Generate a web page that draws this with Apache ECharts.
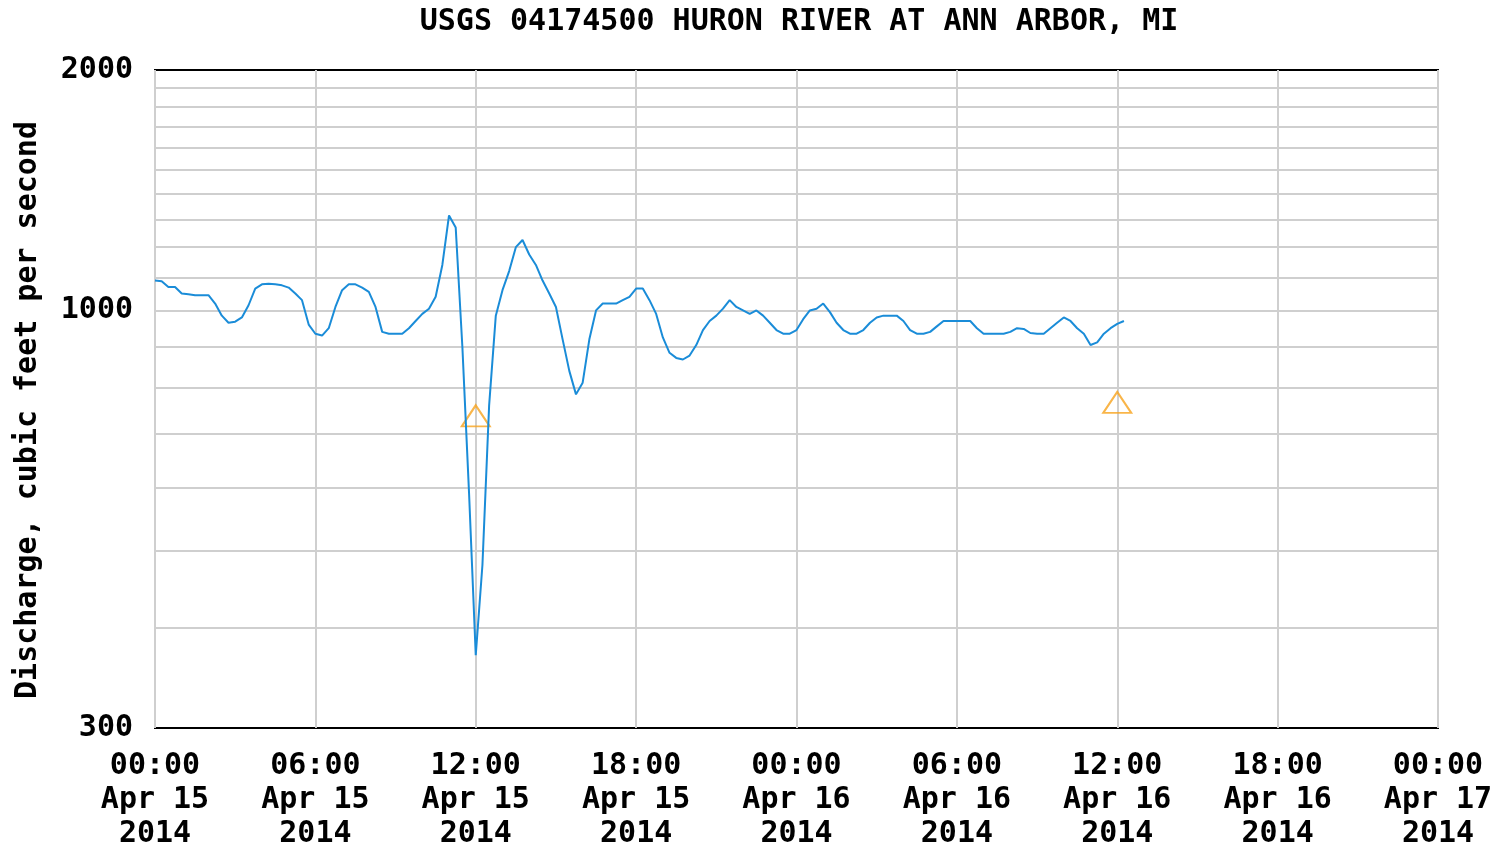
<!DOCTYPE html>
<html>
<head>
<meta charset="utf-8">
<script src="https://cdn.jsdelivr.net/npm/echarts@6/dist/echarts.min.js"></script>
<style>
  html, body { margin: 0; padding: 0; background: #fff; }
  #container { width: 1495px; height: 846px; }
</style>
</head>
<body>
<div id="container"></div>
<script>
// 15-minute discharge readings, Apr 15 2014 00:00 -> Apr 16 12:15 (ft3/s)
var STEP_H = 0.25;
var flow = [
    1090, 1088, 1070, 1070, 1050, 1048, 1045, 1045, 1045, 1020,
    985, 965, 968, 980, 1015, 1065, 1078, 1080, 1078, 1075,
    1068, 1050, 1030, 960, 935, 930, 950, 1010, 1060, 1078,
    1078, 1068, 1055, 1010, 940, 935, 935, 935, 950, 970,
    990, 1005, 1040, 1140, 1315, 1270, 900, 590, 370, 480,
    760, 985, 1060, 1120, 1200, 1225, 1175, 1140, 1090, 1050,
    1010, 920, 840, 785, 812, 920, 1000, 1020, 1020, 1020,
    1030, 1040, 1065, 1065, 1030, 990, 925, 885, 872, 868,
    878, 905, 945, 970, 985, 1005, 1030, 1010, 1000, 990,
    1000, 985, 965, 945, 935, 935, 945, 975, 1000, 1005,
    1020, 995, 965, 945, 935, 935, 945, 965, 980, 985,
    985, 985, 970, 945, 935, 935, 940, 955, 970, 970,
    970, 970, 970, 950, 935, 935, 935, 935, 940, 950,
    948, 937, 935, 935, 950, 965, 980, 970, 950, 935,
    905, 912, 935, 950, 962, 970
];
// median markers (hours from start, value)
var medianHours = [12, 36];
var medianFlow = [738, 767];

var tickLabels = [
    '00:00\nApr 15\n2014', '06:00\nApr 15\n2014', '12:00\nApr 15\n2014',
    '18:00\nApr 15\n2014', '00:00\nApr 16\n2014', '06:00\nApr 16\n2014',
    '12:00\nApr 16\n2014', '18:00\nApr 16\n2014', '00:00\nApr 17\n2014'
];
var yLabels = [300, 1000, 2000];
var yGrid = [400, 500, 600, 700, 800, 900, 1000, 1100, 1200, 1300, 1400, 1500, 1600, 1700, 1800, 1900];

var FONT = 'DejaVu Sans Mono';
var FS = 30;

var dom = document.getElementById("container");
var myChart = echarts.init(dom);

var lineData = flow.map(function (v, i) { return [i * STEP_H, v]; });
var medianData = medianHours.map(function (h, i) { return [h, medianFlow[i]]; });

option = {
    animation: false,
    title: {
        text: 'USGS 04174500 HURON RIVER AT ANN ARBOR, MI',
        left: 794,
        textAlign: 'center',
        top: 2,
        textStyle: {
            fontFamily: FONT,
            fontWeight: 'bold',
            fontSize: FS,
            color: '#000'
        }
    },
    graphic: [{
        type: 'text',
        x: 28,
        y: 410,
        rotation: Math.PI / 2,
        style: {
            text: 'Discharge, cubic feet per second',
            fontFamily: FONT,
            fontWeight: 'bold',
            fontSize: FS,
            fill: '#000',
            align: 'center',
            verticalAlign: 'middle'
        }
    }],
    grid: {
        left: 155,
        right: 57,
        top: 70,
        bottom: 118,
        containLabel: false,
        outerBoundsMode: 'none',
        show: true,
        borderColor: '#000',
        borderWidth: 2,
        backgroundColor: '#fff'
    },
    xAxis: {
        type: 'value',
        min: 0,
        max: 48,
        interval: 6,
        axisLine: { show: false },
        axisTick: { show: false },
        splitLine: { show: true, lineStyle: { color: '#cfcfcf', width: 2 } },
        axisLabel: {
            margin: 21,
            fontFamily: FONT,
            fontWeight: 'bold',
            fontSize: FS,
            lineHeight: 34,
            color: '#000',
            showMaxLabel: true,
            showMinLabel: true,
            formatter: function (v) { return tickLabels[Math.round(v / 6)]; }
        }
    },
    yAxis: {
        type: 'log',
        logBase: 10,
        min: 300,
        max: 2000,
        axisLine: { show: false },
        axisTick: { show: false },
        splitLine: { show: false },
        axisLabel: {
            margin: 22,
            padding: [8, 0, 0, 0],
            fontFamily: FONT,
            fontWeight: 'bold',
            fontSize: FS,
            color: '#000',
            customValues: yLabels,
            formatter: function (v) { return String(Math.round(v)); }
        }
    },
    series: [{
        type: 'scatter',
        z: 2,
        symbol: 'triangle',
        symbolSize: [28, 21],
        itemStyle: { color: 'rgba(0,0,0,0)', borderColor: '#f7a21b', borderWidth: 2 },
        data: medianData
    }, {
        type: 'line',
        z: 3,
        showSymbol: false,
        lineStyle: { color: '#1a8cd8', width: 2 },
        data: lineData,
        markLine: {
            silent: true,
            symbol: 'none',
            label: { show: false },
            z: 1,
            lineStyle: { color: '#cfcfcf', width: 2, type: 'solid' },
            data: yGrid.map(function (v) { return { yAxis: v }; })
        }
    }]
};

if (option && typeof option === "object") {
    myChart.setOption(option, true);
}
</script>
</body>
</html>
